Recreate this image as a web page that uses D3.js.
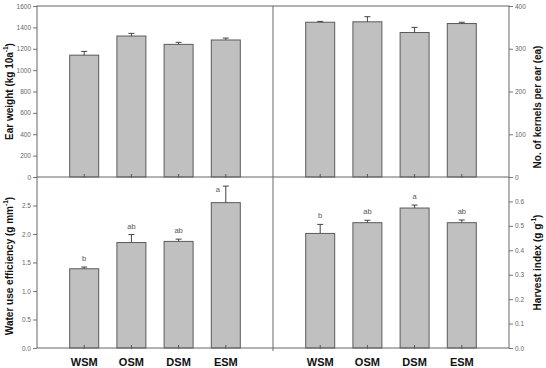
<!DOCTYPE html>
<html>
<head>
<meta charset="utf-8">
<script src="https://cdn.jsdelivr.net/npm/d3@7"></script>
<style>
  body { margin: 0; background: #fff; }
  svg text { font-family: Arial, "Liberation Sans", sans-serif; }
</style>
</head>
<body>
<svg id="chart" width="546" height="368"></svg>
<script>
// treatments
var categories = ["WSM", "OSM", "DSM", "ESM"];

// ear weight (kg 10a-1)
var earWeight = [1140, 1319, 1241, 1282];
var earWeightErr = [35, 25, 19, 18];

// kernels per ear (ea)
var kernels = [362, 363, 338, 359];
var kernelsErr = [2, 12, 12, 3];

// water use efficiency (g mm-1)
var wue = [1.39, 1.85, 1.87, 2.55];
var wueErr = [0.03, 0.14, 0.04, 0.29];
var wueLetters = ["b", "ab", "ab", "a"];

// harvest index (g g-1)
var harvest = [0.469, 0.513, 0.573, 0.513];
var harvestErr = [0.037, 0.010, 0.012, 0.011];
var harvestLetters = ["b", "ab", "a", "ab"];

var tickEar = [0, 200, 400, 600, 800, 1000, 1200, 1400, 1600];
var tickKernels = [0, 100, 200, 300, 400];
var tickWue = [0, 0.5, 1.0, 1.5, 2.0, 2.5];
var tickHarvest = [0, 0.1, 0.2, 0.3, 0.4, 0.5, 0.6];

var frame = { left: 37, right: 509, top: 6, mid: 177, bottom: 348, split: 273 };

var svg = d3.select("#chart");

var panels = [
  { vals: earWeight, errs: earWeightErr, letters: null, domain: [0, 1600], ticks: tickEar, fmt: d3.format("d"),
    x0: frame.left, x1: frame.split, y0: frame.mid, y1: frame.top, side: "left",
    title: ["Ear weight (kg 10a", "-1", ")"] },
  { vals: kernels, errs: kernelsErr, letters: null, domain: [0, 400], ticks: tickKernels, fmt: d3.format("d"),
    x0: frame.split, x1: frame.right, y0: frame.mid, y1: frame.top, side: "right",
    title: ["No. of kernels per ear (ea)"] , titleY: 107 },
  { vals: wue, errs: wueErr, letters: wueLetters, domain: [0, 3.0], ticks: tickWue, fmt: d3.format(".1f"),
    x0: frame.left, x1: frame.split, y0: frame.bottom, y1: frame.mid, side: "left",
    title: ["Water use efficiency (g mm", "-1", ")"], titleY: 266 },
  { vals: harvest, errs: harvestErr, letters: harvestLetters, domain: [0, 0.7], ticks: tickHarvest, fmt: d3.format(".1f"),
    x0: frame.split, x1: frame.right, y0: frame.bottom, y1: frame.mid, side: "right",
    title: ["Harvest index (g g", "-1", ")"] }
];

var barW = 29;

panels.forEach(function (p) {
  var x = d3.scalePoint().domain(categories).range([p.x0, p.x1]).padding(1);
  var y = d3.scaleLinear().domain(p.domain).range([p.y0, p.y1]);
  var g = svg.append("g");

  // bars
  g.selectAll("rect.bar")
    .data(p.vals)
    .enter().append("rect")
    .attr("class", "bar")
    .attr("x", function (d, i) { return x(categories[i]) - barW / 2; })
    .attr("y", function (d) { return y(d); })
    .attr("width", barW)
    .attr("height", function (d) { return y(0) - y(d); })
    .attr("fill", "#c0c0c0")
    .attr("stroke", "#5a5a5a")
    .attr("stroke-width", 1);

  // error bars (upper only)
  p.vals.forEach(function (v, i) {
    var cx = x(categories[i]),
        capY = y(v + p.errs[i]);
    g.append("line")
      .attr("x1", cx).attr("x2", cx)
      .attr("y1", y(v)).attr("y2", capY)
      .attr("stroke", "#444").attr("stroke-width", 1);
    g.append("line")
      .attr("x1", cx - 3).attr("x2", cx + 3)
      .attr("y1", capY).attr("y2", capY)
      .attr("stroke", "#444").attr("stroke-width", 1);
    if (p.letters) {
      // no room above the cap -> put the letter beside it
      var tight = capY - 14 < p.y1;
      g.append("text")
        .attr("x", tight ? cx - 8 : cx)
        .attr("y", tight ? capY + 6 : capY - 6)
        .attr("text-anchor", "middle")
        .attr("font-size", "7.5px")
        .attr("fill", "#555")
        .text(p.letters[i]);
    }
    // x tick mark
    g.append("line")
      .attr("x1", cx).attr("x2", cx)
      .attr("y1", p.y0 - 3).attr("y2", p.y0 + 1)
      .attr("stroke", "#555").attr("stroke-width", 1);
  });

  // y axis
  var axis = (p.side === "left" ? d3.axisLeft(y) : d3.axisRight(y))
    .tickValues(p.ticks).tickFormat(p.fmt).tickSize(4).tickPadding(2);
  var ax = g.append("g")
    .attr("transform", "translate(" + (p.side === "left" ? p.x0 : p.x1) + ",0)")
    .call(axis);
  ax.select(".domain").remove();
  ax.selectAll("line").attr("stroke", "#777");
  ax.selectAll("text").attr("font-size", "6.5px").attr("fill", "#666").attr("font-family", "Arial, 'Liberation Sans', sans-serif");

  // y title
  var tx = p.side === "left" ? 9 : 537;
  var ty = p.titleY || (p.y0 + p.y1) / 2;
  var t = svg.append("text")
    .attr("transform", "translate(" + tx + "," + ty + ") rotate(-90)")
    .attr("text-anchor", "middle")
    .attr("dominant-baseline", "central")
    .attr("font-size", "10px")
    .attr("font-weight", "bold")
    .attr("fill", "#111");
  t.append("tspan").text(p.title[0]);
  if (p.title.length > 1) {
    t.append("tspan").attr("font-size", "6.5px").attr("dy", "-4").text(p.title[1]);
    t.append("tspan").attr("dy", "4").text(p.title[2]);
  }

  // x labels on bottom panels
  if (p.y0 === frame.bottom) {
    g.selectAll("text.xl")
      .data(categories)
      .enter().append("text")
      .attr("class", "xl")
      .attr("x", function (d) { return x(d); })
      .attr("y", 366)
      .attr("text-anchor", "middle")
      .attr("font-size", "11px")
      .attr("font-weight", "bold")
      .attr("fill", "#111")
      .text(function (d) { return d; });
  }
});

// frame lines
var fr = svg.append("g").attr("stroke", "#666").attr("stroke-width", 1).attr("fill", "none");
fr.append("rect")
  .attr("x", frame.left).attr("y", frame.top)
  .attr("width", frame.right - frame.left).attr("height", frame.bottom - frame.top);
fr.append("line").attr("x1", frame.left).attr("x2", frame.right).attr("y1", frame.mid).attr("y2", frame.mid);
fr.append("line").attr("x1", frame.split).attr("x2", frame.split).attr("y1", frame.top).attr("y2", frame.bottom + 3);
</script>
</body>
</html>
